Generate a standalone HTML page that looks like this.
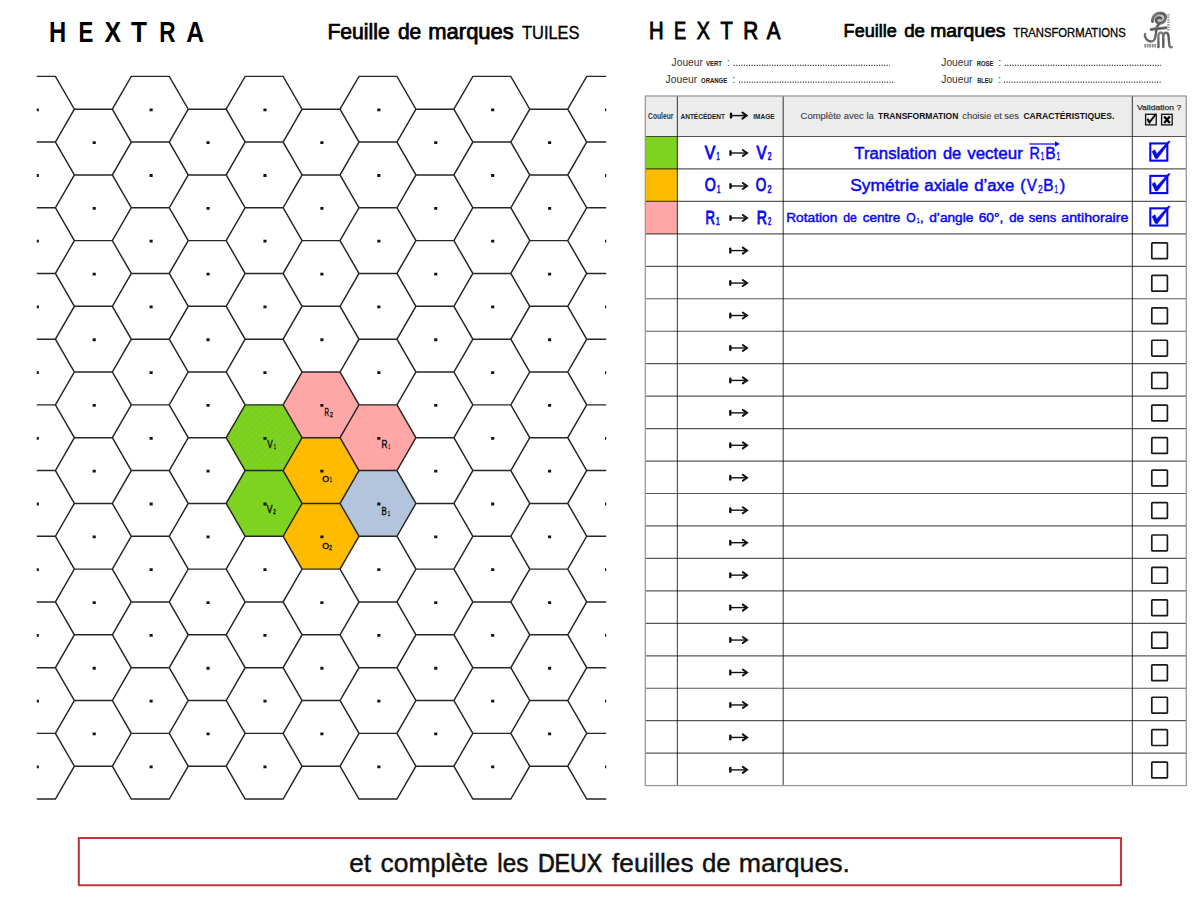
<!DOCTYPE html>
<html><head><meta charset="utf-8"><style>
html,body{margin:0;padding:0;background:#fff;width:1200px;height:900px;overflow:hidden}
svg{display:block;font-family:"Liberation Sans",sans-serif}
</style></head><body>
<svg width="1200" height="900" viewBox="0 0 1200 900">
<defs><clipPath id="gc"><rect x="36.8" y="0" width="569.4" height="900"/></clipPath><pattern id="hatch" patternUnits="userSpaceOnUse" width="4.5" height="4.5" patternTransform="rotate(-42)"><rect width="4.5" height="4.5" fill="#7ed321"/><rect width="4.5" height="0.8" fill="#78c720"/></pattern></defs>
<g clip-path="url(#gc)">
<polygon points="226.18,437.70 245.15,404.85 283.10,404.85 302.07,437.70 283.10,470.55 245.15,470.55" fill="url(#hatch)"/>
<polygon points="226.18,503.40 245.15,470.55 283.10,470.55 302.07,503.40 283.10,536.25 245.15,536.25" fill="#7ed321"/>
<polygon points="283.10,404.85 302.07,372.00 340.03,372.00 359.00,404.85 340.03,437.70 302.07,437.70" fill="#ffa6a6"/>
<polygon points="283.10,470.55 302.07,437.70 340.03,437.70 359.00,470.55 340.03,503.40 302.07,503.40" fill="#ffbb00"/>
<polygon points="283.10,536.25 302.07,503.40 340.03,503.40 359.00,536.25 340.03,569.10 302.07,569.10" fill="#ffbb00"/>
<polygon points="340.03,437.70 359.00,404.85 396.95,404.85 415.93,437.70 396.95,470.55 359.00,470.55" fill="#ffa6a6"/>
<polygon points="340.03,503.40 359.00,470.55 396.95,470.55 415.93,503.40 396.95,536.25 359.00,536.25" fill="#b3c5dc"/>
<path d="M-1.53,109.20 L17.45,76.35 L55.40,76.35 L74.38,109.20 L55.40,142.05 L17.45,142.05Z M-1.53,174.90 L17.45,142.05 L55.40,142.05 L74.38,174.90 L55.40,207.75 L17.45,207.75Z M-1.53,240.60 L17.45,207.75 L55.40,207.75 L74.38,240.60 L55.40,273.45 L17.45,273.45Z M-1.53,306.30 L17.45,273.45 L55.40,273.45 L74.38,306.30 L55.40,339.15 L17.45,339.15Z M-1.53,372.00 L17.45,339.15 L55.40,339.15 L74.38,372.00 L55.40,404.85 L17.45,404.85Z M-1.53,437.70 L17.45,404.85 L55.40,404.85 L74.38,437.70 L55.40,470.55 L17.45,470.55Z M-1.53,503.40 L17.45,470.55 L55.40,470.55 L74.38,503.40 L55.40,536.25 L17.45,536.25Z M-1.53,569.10 L17.45,536.25 L55.40,536.25 L74.38,569.10 L55.40,601.95 L17.45,601.95Z M-1.53,634.80 L17.45,601.95 L55.40,601.95 L74.38,634.80 L55.40,667.65 L17.45,667.65Z M-1.53,700.50 L17.45,667.65 L55.40,667.65 L74.38,700.50 L55.40,733.35 L17.45,733.35Z M-1.53,766.20 L17.45,733.35 L55.40,733.35 L74.38,766.20 L55.40,799.05 L17.45,799.05Z M55.40,142.05 L74.38,109.20 L112.32,109.20 L131.30,142.05 L112.32,174.90 L74.38,174.90Z M55.40,207.75 L74.38,174.90 L112.32,174.90 L131.30,207.75 L112.32,240.60 L74.38,240.60Z M55.40,273.45 L74.38,240.60 L112.32,240.60 L131.30,273.45 L112.32,306.30 L74.38,306.30Z M55.40,339.15 L74.38,306.30 L112.32,306.30 L131.30,339.15 L112.32,372.00 L74.38,372.00Z M55.40,404.85 L74.38,372.00 L112.32,372.00 L131.30,404.85 L112.32,437.70 L74.38,437.70Z M55.40,470.55 L74.38,437.70 L112.32,437.70 L131.30,470.55 L112.32,503.40 L74.38,503.40Z M55.40,536.25 L74.38,503.40 L112.32,503.40 L131.30,536.25 L112.32,569.10 L74.38,569.10Z M55.40,601.95 L74.38,569.10 L112.32,569.10 L131.30,601.95 L112.32,634.80 L74.38,634.80Z M55.40,667.65 L74.38,634.80 L112.32,634.80 L131.30,667.65 L112.32,700.50 L74.38,700.50Z M55.40,733.35 L74.38,700.50 L112.32,700.50 L131.30,733.35 L112.32,766.20 L74.38,766.20Z M112.33,109.20 L131.30,76.35 L169.25,76.35 L188.23,109.20 L169.25,142.05 L131.30,142.05Z M112.33,174.90 L131.30,142.05 L169.25,142.05 L188.23,174.90 L169.25,207.75 L131.30,207.75Z M112.33,240.60 L131.30,207.75 L169.25,207.75 L188.23,240.60 L169.25,273.45 L131.30,273.45Z M112.33,306.30 L131.30,273.45 L169.25,273.45 L188.23,306.30 L169.25,339.15 L131.30,339.15Z M112.33,372.00 L131.30,339.15 L169.25,339.15 L188.23,372.00 L169.25,404.85 L131.30,404.85Z M112.33,437.70 L131.30,404.85 L169.25,404.85 L188.23,437.70 L169.25,470.55 L131.30,470.55Z M112.33,503.40 L131.30,470.55 L169.25,470.55 L188.23,503.40 L169.25,536.25 L131.30,536.25Z M112.33,569.10 L131.30,536.25 L169.25,536.25 L188.23,569.10 L169.25,601.95 L131.30,601.95Z M112.33,634.80 L131.30,601.95 L169.25,601.95 L188.23,634.80 L169.25,667.65 L131.30,667.65Z M112.33,700.50 L131.30,667.65 L169.25,667.65 L188.23,700.50 L169.25,733.35 L131.30,733.35Z M112.33,766.20 L131.30,733.35 L169.25,733.35 L188.23,766.20 L169.25,799.05 L131.30,799.05Z M169.25,142.05 L188.22,109.20 L226.17,109.20 L245.15,142.05 L226.17,174.90 L188.22,174.90Z M169.25,207.75 L188.22,174.90 L226.17,174.90 L245.15,207.75 L226.17,240.60 L188.22,240.60Z M169.25,273.45 L188.22,240.60 L226.17,240.60 L245.15,273.45 L226.17,306.30 L188.22,306.30Z M169.25,339.15 L188.22,306.30 L226.17,306.30 L245.15,339.15 L226.17,372.00 L188.22,372.00Z M169.25,404.85 L188.22,372.00 L226.17,372.00 L245.15,404.85 L226.17,437.70 L188.22,437.70Z M169.25,470.55 L188.22,437.70 L226.17,437.70 L245.15,470.55 L226.17,503.40 L188.22,503.40Z M169.25,536.25 L188.22,503.40 L226.17,503.40 L245.15,536.25 L226.17,569.10 L188.22,569.10Z M169.25,601.95 L188.22,569.10 L226.17,569.10 L245.15,601.95 L226.17,634.80 L188.22,634.80Z M169.25,667.65 L188.22,634.80 L226.17,634.80 L245.15,667.65 L226.17,700.50 L188.22,700.50Z M169.25,733.35 L188.22,700.50 L226.17,700.50 L245.15,733.35 L226.17,766.20 L188.22,766.20Z M226.18,109.20 L245.15,76.35 L283.10,76.35 L302.07,109.20 L283.10,142.05 L245.15,142.05Z M226.18,174.90 L245.15,142.05 L283.10,142.05 L302.07,174.90 L283.10,207.75 L245.15,207.75Z M226.18,240.60 L245.15,207.75 L283.10,207.75 L302.07,240.60 L283.10,273.45 L245.15,273.45Z M226.18,306.30 L245.15,273.45 L283.10,273.45 L302.07,306.30 L283.10,339.15 L245.15,339.15Z M226.18,372.00 L245.15,339.15 L283.10,339.15 L302.07,372.00 L283.10,404.85 L245.15,404.85Z M226.18,437.70 L245.15,404.85 L283.10,404.85 L302.07,437.70 L283.10,470.55 L245.15,470.55Z M226.18,503.40 L245.15,470.55 L283.10,470.55 L302.07,503.40 L283.10,536.25 L245.15,536.25Z M226.18,569.10 L245.15,536.25 L283.10,536.25 L302.07,569.10 L283.10,601.95 L245.15,601.95Z M226.18,634.80 L245.15,601.95 L283.10,601.95 L302.07,634.80 L283.10,667.65 L245.15,667.65Z M226.18,700.50 L245.15,667.65 L283.10,667.65 L302.07,700.50 L283.10,733.35 L245.15,733.35Z M226.18,766.20 L245.15,733.35 L283.10,733.35 L302.07,766.20 L283.10,799.05 L245.15,799.05Z M283.10,142.05 L302.07,109.20 L340.03,109.20 L359.00,142.05 L340.03,174.90 L302.07,174.90Z M283.10,207.75 L302.07,174.90 L340.03,174.90 L359.00,207.75 L340.03,240.60 L302.07,240.60Z M283.10,273.45 L302.07,240.60 L340.03,240.60 L359.00,273.45 L340.03,306.30 L302.07,306.30Z M283.10,339.15 L302.07,306.30 L340.03,306.30 L359.00,339.15 L340.03,372.00 L302.07,372.00Z M283.10,404.85 L302.07,372.00 L340.03,372.00 L359.00,404.85 L340.03,437.70 L302.07,437.70Z M283.10,470.55 L302.07,437.70 L340.03,437.70 L359.00,470.55 L340.03,503.40 L302.07,503.40Z M283.10,536.25 L302.07,503.40 L340.03,503.40 L359.00,536.25 L340.03,569.10 L302.07,569.10Z M283.10,601.95 L302.07,569.10 L340.03,569.10 L359.00,601.95 L340.03,634.80 L302.07,634.80Z M283.10,667.65 L302.07,634.80 L340.03,634.80 L359.00,667.65 L340.03,700.50 L302.07,700.50Z M283.10,733.35 L302.07,700.50 L340.03,700.50 L359.00,733.35 L340.03,766.20 L302.07,766.20Z M340.03,109.20 L359.00,76.35 L396.95,76.35 L415.93,109.20 L396.95,142.05 L359.00,142.05Z M340.03,174.90 L359.00,142.05 L396.95,142.05 L415.93,174.90 L396.95,207.75 L359.00,207.75Z M340.03,240.60 L359.00,207.75 L396.95,207.75 L415.93,240.60 L396.95,273.45 L359.00,273.45Z M340.03,306.30 L359.00,273.45 L396.95,273.45 L415.93,306.30 L396.95,339.15 L359.00,339.15Z M340.03,372.00 L359.00,339.15 L396.95,339.15 L415.93,372.00 L396.95,404.85 L359.00,404.85Z M340.03,437.70 L359.00,404.85 L396.95,404.85 L415.93,437.70 L396.95,470.55 L359.00,470.55Z M340.03,503.40 L359.00,470.55 L396.95,470.55 L415.93,503.40 L396.95,536.25 L359.00,536.25Z M340.03,569.10 L359.00,536.25 L396.95,536.25 L415.93,569.10 L396.95,601.95 L359.00,601.95Z M340.03,634.80 L359.00,601.95 L396.95,601.95 L415.93,634.80 L396.95,667.65 L359.00,667.65Z M340.03,700.50 L359.00,667.65 L396.95,667.65 L415.93,700.50 L396.95,733.35 L359.00,733.35Z M340.03,766.20 L359.00,733.35 L396.95,733.35 L415.93,766.20 L396.95,799.05 L359.00,799.05Z M396.95,142.05 L415.92,109.20 L453.88,109.20 L472.85,142.05 L453.88,174.90 L415.92,174.90Z M396.95,207.75 L415.92,174.90 L453.88,174.90 L472.85,207.75 L453.88,240.60 L415.92,240.60Z M396.95,273.45 L415.92,240.60 L453.88,240.60 L472.85,273.45 L453.88,306.30 L415.92,306.30Z M396.95,339.15 L415.92,306.30 L453.88,306.30 L472.85,339.15 L453.88,372.00 L415.92,372.00Z M396.95,404.85 L415.92,372.00 L453.88,372.00 L472.85,404.85 L453.88,437.70 L415.92,437.70Z M396.95,470.55 L415.92,437.70 L453.88,437.70 L472.85,470.55 L453.88,503.40 L415.92,503.40Z M396.95,536.25 L415.92,503.40 L453.88,503.40 L472.85,536.25 L453.88,569.10 L415.92,569.10Z M396.95,601.95 L415.92,569.10 L453.88,569.10 L472.85,601.95 L453.88,634.80 L415.92,634.80Z M396.95,667.65 L415.92,634.80 L453.88,634.80 L472.85,667.65 L453.88,700.50 L415.92,700.50Z M396.95,733.35 L415.92,700.50 L453.88,700.50 L472.85,733.35 L453.88,766.20 L415.92,766.20Z M453.88,109.20 L472.85,76.35 L510.80,76.35 L529.78,109.20 L510.80,142.05 L472.85,142.05Z M453.88,174.90 L472.85,142.05 L510.80,142.05 L529.78,174.90 L510.80,207.75 L472.85,207.75Z M453.88,240.60 L472.85,207.75 L510.80,207.75 L529.78,240.60 L510.80,273.45 L472.85,273.45Z M453.88,306.30 L472.85,273.45 L510.80,273.45 L529.78,306.30 L510.80,339.15 L472.85,339.15Z M453.88,372.00 L472.85,339.15 L510.80,339.15 L529.78,372.00 L510.80,404.85 L472.85,404.85Z M453.88,437.70 L472.85,404.85 L510.80,404.85 L529.78,437.70 L510.80,470.55 L472.85,470.55Z M453.88,503.40 L472.85,470.55 L510.80,470.55 L529.78,503.40 L510.80,536.25 L472.85,536.25Z M453.88,569.10 L472.85,536.25 L510.80,536.25 L529.78,569.10 L510.80,601.95 L472.85,601.95Z M453.88,634.80 L472.85,601.95 L510.80,601.95 L529.78,634.80 L510.80,667.65 L472.85,667.65Z M453.88,700.50 L472.85,667.65 L510.80,667.65 L529.78,700.50 L510.80,733.35 L472.85,733.35Z M453.88,766.20 L472.85,733.35 L510.80,733.35 L529.78,766.20 L510.80,799.05 L472.85,799.05Z M510.80,142.05 L529.77,109.20 L567.73,109.20 L586.70,142.05 L567.73,174.90 L529.77,174.90Z M510.80,207.75 L529.77,174.90 L567.73,174.90 L586.70,207.75 L567.73,240.60 L529.77,240.60Z M510.80,273.45 L529.77,240.60 L567.73,240.60 L586.70,273.45 L567.73,306.30 L529.77,306.30Z M510.80,339.15 L529.77,306.30 L567.73,306.30 L586.70,339.15 L567.73,372.00 L529.77,372.00Z M510.80,404.85 L529.77,372.00 L567.73,372.00 L586.70,404.85 L567.73,437.70 L529.77,437.70Z M510.80,470.55 L529.77,437.70 L567.73,437.70 L586.70,470.55 L567.73,503.40 L529.77,503.40Z M510.80,536.25 L529.77,503.40 L567.73,503.40 L586.70,536.25 L567.73,569.10 L529.77,569.10Z M510.80,601.95 L529.77,569.10 L567.73,569.10 L586.70,601.95 L567.73,634.80 L529.77,634.80Z M510.80,667.65 L529.77,634.80 L567.73,634.80 L586.70,667.65 L567.73,700.50 L529.77,700.50Z M510.80,733.35 L529.77,700.50 L567.73,700.50 L586.70,733.35 L567.73,766.20 L529.77,766.20Z M567.73,109.20 L586.70,76.35 L624.65,76.35 L643.63,109.20 L624.65,142.05 L586.70,142.05Z M567.73,174.90 L586.70,142.05 L624.65,142.05 L643.63,174.90 L624.65,207.75 L586.70,207.75Z M567.73,240.60 L586.70,207.75 L624.65,207.75 L643.63,240.60 L624.65,273.45 L586.70,273.45Z M567.73,306.30 L586.70,273.45 L624.65,273.45 L643.63,306.30 L624.65,339.15 L586.70,339.15Z M567.73,372.00 L586.70,339.15 L624.65,339.15 L643.63,372.00 L624.65,404.85 L586.70,404.85Z M567.73,437.70 L586.70,404.85 L624.65,404.85 L643.63,437.70 L624.65,470.55 L586.70,470.55Z M567.73,503.40 L586.70,470.55 L624.65,470.55 L643.63,503.40 L624.65,536.25 L586.70,536.25Z M567.73,569.10 L586.70,536.25 L624.65,536.25 L643.63,569.10 L624.65,601.95 L586.70,601.95Z M567.73,634.80 L586.70,601.95 L624.65,601.95 L643.63,634.80 L624.65,667.65 L586.70,667.65Z M567.73,700.50 L586.70,667.65 L624.65,667.65 L643.63,700.50 L624.65,733.35 L586.70,733.35Z M567.73,766.20 L586.70,733.35 L624.65,733.35 L643.63,766.20 L624.65,799.05 L586.70,799.05Z" fill="none" stroke="#262626" stroke-width="1.45"/>
<path d="M35.72,108.40h3.1v2.8h-3.1zM35.72,174.10h3.1v2.8h-3.1zM35.72,239.80h3.1v2.8h-3.1zM35.72,305.50h3.1v2.8h-3.1zM35.72,371.20h3.1v2.8h-3.1zM35.72,436.90h3.1v2.8h-3.1zM35.72,502.60h3.1v2.8h-3.1zM35.72,568.30h3.1v2.8h-3.1zM35.72,634.00h3.1v2.8h-3.1zM35.72,699.70h3.1v2.8h-3.1zM35.72,765.40h3.1v2.8h-3.1zM92.65,141.25h3.1v2.8h-3.1zM92.65,206.95h3.1v2.8h-3.1zM92.65,272.65h3.1v2.8h-3.1zM92.65,338.35h3.1v2.8h-3.1zM92.65,404.05h3.1v2.8h-3.1zM92.65,469.75h3.1v2.8h-3.1zM92.65,535.45h3.1v2.8h-3.1zM92.65,601.15h3.1v2.8h-3.1zM92.65,666.85h3.1v2.8h-3.1zM92.65,732.55h3.1v2.8h-3.1zM149.58,108.40h3.1v2.8h-3.1zM149.58,174.10h3.1v2.8h-3.1zM149.58,239.80h3.1v2.8h-3.1zM149.58,305.50h3.1v2.8h-3.1zM149.58,371.20h3.1v2.8h-3.1zM149.58,436.90h3.1v2.8h-3.1zM149.58,502.60h3.1v2.8h-3.1zM149.58,568.30h3.1v2.8h-3.1zM149.58,634.00h3.1v2.8h-3.1zM149.58,699.70h3.1v2.8h-3.1zM149.58,765.40h3.1v2.8h-3.1zM206.50,141.25h3.1v2.8h-3.1zM206.50,206.95h3.1v2.8h-3.1zM206.50,272.65h3.1v2.8h-3.1zM206.50,338.35h3.1v2.8h-3.1zM206.50,404.05h3.1v2.8h-3.1zM206.50,469.75h3.1v2.8h-3.1zM206.50,535.45h3.1v2.8h-3.1zM206.50,601.15h3.1v2.8h-3.1zM206.50,666.85h3.1v2.8h-3.1zM206.50,732.55h3.1v2.8h-3.1zM263.43,108.40h3.1v2.8h-3.1zM263.43,174.10h3.1v2.8h-3.1zM263.43,239.80h3.1v2.8h-3.1zM263.43,305.50h3.1v2.8h-3.1zM263.43,371.20h3.1v2.8h-3.1zM263.43,436.90h3.1v2.8h-3.1zM263.43,502.60h3.1v2.8h-3.1zM263.43,568.30h3.1v2.8h-3.1zM263.43,634.00h3.1v2.8h-3.1zM263.43,699.70h3.1v2.8h-3.1zM263.43,765.40h3.1v2.8h-3.1zM320.35,141.25h3.1v2.8h-3.1zM320.35,206.95h3.1v2.8h-3.1zM320.35,272.65h3.1v2.8h-3.1zM320.35,338.35h3.1v2.8h-3.1zM320.35,404.05h3.1v2.8h-3.1zM320.35,469.75h3.1v2.8h-3.1zM320.35,535.45h3.1v2.8h-3.1zM320.35,601.15h3.1v2.8h-3.1zM320.35,666.85h3.1v2.8h-3.1zM320.35,732.55h3.1v2.8h-3.1zM377.28,108.40h3.1v2.8h-3.1zM377.28,174.10h3.1v2.8h-3.1zM377.28,239.80h3.1v2.8h-3.1zM377.28,305.50h3.1v2.8h-3.1zM377.28,371.20h3.1v2.8h-3.1zM377.28,436.90h3.1v2.8h-3.1zM377.28,502.60h3.1v2.8h-3.1zM377.28,568.30h3.1v2.8h-3.1zM377.28,634.00h3.1v2.8h-3.1zM377.28,699.70h3.1v2.8h-3.1zM377.28,765.40h3.1v2.8h-3.1zM434.20,141.25h3.1v2.8h-3.1zM434.20,206.95h3.1v2.8h-3.1zM434.20,272.65h3.1v2.8h-3.1zM434.20,338.35h3.1v2.8h-3.1zM434.20,404.05h3.1v2.8h-3.1zM434.20,469.75h3.1v2.8h-3.1zM434.20,535.45h3.1v2.8h-3.1zM434.20,601.15h3.1v2.8h-3.1zM434.20,666.85h3.1v2.8h-3.1zM434.20,732.55h3.1v2.8h-3.1zM491.13,108.40h3.1v2.8h-3.1zM491.13,174.10h3.1v2.8h-3.1zM491.13,239.80h3.1v2.8h-3.1zM491.13,305.50h3.1v2.8h-3.1zM491.13,371.20h3.1v2.8h-3.1zM491.13,436.90h3.1v2.8h-3.1zM491.13,502.60h3.1v2.8h-3.1zM491.13,568.30h3.1v2.8h-3.1zM491.13,634.00h3.1v2.8h-3.1zM491.13,699.70h3.1v2.8h-3.1zM491.13,765.40h3.1v2.8h-3.1zM548.05,141.25h3.1v2.8h-3.1zM548.05,206.95h3.1v2.8h-3.1zM548.05,272.65h3.1v2.8h-3.1zM548.05,338.35h3.1v2.8h-3.1zM548.05,404.05h3.1v2.8h-3.1zM548.05,469.75h3.1v2.8h-3.1zM548.05,535.45h3.1v2.8h-3.1zM548.05,601.15h3.1v2.8h-3.1zM548.05,666.85h3.1v2.8h-3.1zM548.05,732.55h3.1v2.8h-3.1zM604.98,108.40h3.1v2.8h-3.1zM604.98,174.10h3.1v2.8h-3.1zM604.98,239.80h3.1v2.8h-3.1zM604.98,305.50h3.1v2.8h-3.1zM604.98,371.20h3.1v2.8h-3.1zM604.98,436.90h3.1v2.8h-3.1zM604.98,502.60h3.1v2.8h-3.1zM604.98,568.30h3.1v2.8h-3.1zM604.98,634.00h3.1v2.8h-3.1zM604.98,699.70h3.1v2.8h-3.1zM604.98,765.40h3.1v2.8h-3.1z" fill="#111"/>
</g>
<line x1="733.7" y1="65.4" x2="890" y2="65.4" stroke="#3a3a3a" stroke-width="1.2" stroke-dasharray="1.15 1.4"/>
<line x1="739" y1="82.1" x2="895" y2="82.1" stroke="#3a3a3a" stroke-width="1.2" stroke-dasharray="1.15 1.4"/>
<line x1="1004.7" y1="65.4" x2="1161" y2="65.4" stroke="#3a3a3a" stroke-width="1.2" stroke-dasharray="1.15 1.4"/>
<line x1="1004" y1="82.1" x2="1161" y2="82.1" stroke="#3a3a3a" stroke-width="1.2" stroke-dasharray="1.15 1.4"/>
<rect x="645.3" y="96.0" width="541.0" height="40.5" fill="#ececec"/>
<rect x="645.3" y="136.50" width="32.10000000000002" height="32.45" fill="#7ed321"/>
<rect x="645.3" y="168.95" width="32.10000000000002" height="32.45" fill="#ffbb00"/>
<rect x="645.3" y="201.41" width="32.10000000000002" height="32.45" fill="#ffa6a6"/>
<path d="M645.3,136.50H1186.3M645.3,168.95H1186.3M645.3,201.41H1186.3M645.3,233.87H1186.3M645.3,266.32H1186.3M645.3,298.77H1186.3M645.3,331.23H1186.3M645.3,363.69H1186.3M645.3,396.14H1186.3M645.3,428.59H1186.3M645.3,461.05H1186.3M645.3,493.50H1186.3M645.3,525.96H1186.3M645.3,558.41H1186.3M645.3,590.87H1186.3M645.3,623.33H1186.3M645.3,655.78H1186.3M645.3,688.24H1186.3M645.3,720.69H1186.3M645.3,753.14H1186.3" stroke="#000" stroke-opacity="0.66" stroke-width="1.2" fill="none"/>
<path d="M677.4,96.0V785.6M783.2,96.0V785.6M1132.4,96.0V785.6" stroke="#000" stroke-opacity="0.66" stroke-width="1.2" fill="none"/>
<rect x="645.3" y="96.0" width="541.0" height="689.6" stroke="#9a9a9a" stroke-width="1.3" fill="none"/>
<path d="M730.8,115.60H746.1" stroke="#111" stroke-width="1.4" fill="none"/><path d="M731.0,113.80V117.40" stroke="#111" stroke-width="2.4" stroke-linecap="round" fill="none"/><path d="M742.4,112.60 L746.6,115.60 L742.4,118.60" stroke="#111" stroke-width="2.0" stroke-linecap="round" stroke-linejoin="miter" fill="none"/>
<rect x="1145.6" y="114.3" width="10.6" height="10.6" fill="none" stroke="#111" stroke-width="1.3"/>
<polygon points="1146.9,119.6 1148.3,118.6 1149.7,121.0 1155.3,113.7 1156.5,114.2 1149.6,123.6 1149.0,123.6" fill="#000" stroke="#000" stroke-width="0.5" stroke-linejoin="round"/>
<rect x="1161.6" y="114.3" width="10.6" height="10.6" fill="none" stroke="#111" stroke-width="1.3"/>
<path d="M1164.2,116.4 L1169.8,123.0 M1169.8,116.4 L1164.2,123.0" fill="none" stroke="#000" stroke-width="2.3"/>
<path d="M730.3,153.00H746.5" stroke="#111" stroke-width="1.4" fill="none"/><path d="M730.5,151.20V154.80" stroke="#111" stroke-width="2.4" stroke-linecap="round" fill="none"/><path d="M742.8,150.00 L747.0,153.00 L742.8,156.00" stroke="#111" stroke-width="2.0" stroke-linecap="round" stroke-linejoin="miter" fill="none"/>
<path d="M730.3,186.00H746.5" stroke="#111" stroke-width="1.4" fill="none"/><path d="M730.5,184.20V187.80" stroke="#111" stroke-width="2.4" stroke-linecap="round" fill="none"/><path d="M742.8,183.00 L747.0,186.00 L742.8,189.00" stroke="#111" stroke-width="2.0" stroke-linecap="round" stroke-linejoin="miter" fill="none"/>
<path d="M730.3,218.00H746.5" stroke="#111" stroke-width="1.4" fill="none"/><path d="M730.5,216.20V219.80" stroke="#111" stroke-width="2.4" stroke-linecap="round" fill="none"/><path d="M742.8,215.00 L747.0,218.00 L742.8,221.00" stroke="#111" stroke-width="2.0" stroke-linecap="round" stroke-linejoin="miter" fill="none"/>
<path d="M1029.3,144H1056" stroke="#0808f0" stroke-width="1.2"/><path d="M1055,141.2L1059.8,144L1055,146.8Z" fill="#0808f0"/>
<rect x="1150.3" y="143.43" width="17.0" height="17.2" fill="none" stroke="#0808f0" stroke-width="2.1"/>
<polygon points="1152.10,151.53 1154.90,149.83 1156.70,154.03 1168.30,141.33 1170.20,141.23 1157.40,158.53 1155.40,158.53" fill="#0808f0" stroke="#0808f0" stroke-width="0.6" stroke-linejoin="round"/>
<rect x="1150.3" y="175.88" width="17.0" height="17.2" fill="none" stroke="#0808f0" stroke-width="2.1"/>
<polygon points="1152.10,183.98 1154.90,182.28 1156.70,186.48 1168.30,173.78 1170.20,173.68 1157.40,190.98 1155.40,190.98" fill="#0808f0" stroke="#0808f0" stroke-width="0.6" stroke-linejoin="round"/>
<rect x="1150.3" y="208.34" width="17.0" height="17.2" fill="none" stroke="#0808f0" stroke-width="2.1"/>
<polygon points="1152.10,216.44 1154.90,214.74 1156.70,218.94 1168.30,206.24 1170.20,206.14 1157.40,223.44 1155.40,223.44" fill="#0808f0" stroke="#0808f0" stroke-width="0.6" stroke-linejoin="round"/>
<path d="M730.1,250.59H746.5" stroke="#111" stroke-width="1.4" fill="none"/><path d="M730.3000000000001,248.79V252.39" stroke="#111" stroke-width="2.4" stroke-linecap="round" fill="none"/><path d="M742.8,247.59 L747.0,250.59 L742.8,253.59" stroke="#111" stroke-width="2.0" stroke-linecap="round" stroke-linejoin="miter" fill="none"/>
<rect x="1151.8" y="242.89" width="15.6" height="15.8" rx="0.7" fill="none" stroke="#1a1a1a" stroke-width="1.7"/>
<path d="M730.1,283.05H746.5" stroke="#111" stroke-width="1.4" fill="none"/><path d="M730.3000000000001,281.25V284.85" stroke="#111" stroke-width="2.4" stroke-linecap="round" fill="none"/><path d="M742.8,280.05 L747.0,283.05 L742.8,286.05" stroke="#111" stroke-width="2.0" stroke-linecap="round" stroke-linejoin="miter" fill="none"/>
<rect x="1151.8" y="275.35" width="15.6" height="15.8" rx="0.7" fill="none" stroke="#1a1a1a" stroke-width="1.7"/>
<path d="M730.1,315.50H746.5" stroke="#111" stroke-width="1.4" fill="none"/><path d="M730.3000000000001,313.70V317.30" stroke="#111" stroke-width="2.4" stroke-linecap="round" fill="none"/><path d="M742.8,312.50 L747.0,315.50 L742.8,318.50" stroke="#111" stroke-width="2.0" stroke-linecap="round" stroke-linejoin="miter" fill="none"/>
<rect x="1151.8" y="307.80" width="15.6" height="15.8" rx="0.7" fill="none" stroke="#1a1a1a" stroke-width="1.7"/>
<path d="M730.1,347.96H746.5" stroke="#111" stroke-width="1.4" fill="none"/><path d="M730.3000000000001,346.16V349.76" stroke="#111" stroke-width="2.4" stroke-linecap="round" fill="none"/><path d="M742.8,344.96 L747.0,347.96 L742.8,350.96" stroke="#111" stroke-width="2.0" stroke-linecap="round" stroke-linejoin="miter" fill="none"/>
<rect x="1151.8" y="340.26" width="15.6" height="15.8" rx="0.7" fill="none" stroke="#1a1a1a" stroke-width="1.7"/>
<path d="M730.1,380.41H746.5" stroke="#111" stroke-width="1.4" fill="none"/><path d="M730.3000000000001,378.61V382.21" stroke="#111" stroke-width="2.4" stroke-linecap="round" fill="none"/><path d="M742.8,377.41 L747.0,380.41 L742.8,383.41" stroke="#111" stroke-width="2.0" stroke-linecap="round" stroke-linejoin="miter" fill="none"/>
<rect x="1151.8" y="372.71" width="15.6" height="15.8" rx="0.7" fill="none" stroke="#1a1a1a" stroke-width="1.7"/>
<path d="M730.1,412.87H746.5" stroke="#111" stroke-width="1.4" fill="none"/><path d="M730.3000000000001,411.07V414.67" stroke="#111" stroke-width="2.4" stroke-linecap="round" fill="none"/><path d="M742.8,409.87 L747.0,412.87 L742.8,415.87" stroke="#111" stroke-width="2.0" stroke-linecap="round" stroke-linejoin="miter" fill="none"/>
<rect x="1151.8" y="405.17" width="15.6" height="15.8" rx="0.7" fill="none" stroke="#1a1a1a" stroke-width="1.7"/>
<path d="M730.1,445.32H746.5" stroke="#111" stroke-width="1.4" fill="none"/><path d="M730.3000000000001,443.52V447.12" stroke="#111" stroke-width="2.4" stroke-linecap="round" fill="none"/><path d="M742.8,442.32 L747.0,445.32 L742.8,448.32" stroke="#111" stroke-width="2.0" stroke-linecap="round" stroke-linejoin="miter" fill="none"/>
<rect x="1151.8" y="437.62" width="15.6" height="15.8" rx="0.7" fill="none" stroke="#1a1a1a" stroke-width="1.7"/>
<path d="M730.1,477.78H746.5" stroke="#111" stroke-width="1.4" fill="none"/><path d="M730.3000000000001,475.98V479.58" stroke="#111" stroke-width="2.4" stroke-linecap="round" fill="none"/><path d="M742.8,474.78 L747.0,477.78 L742.8,480.78" stroke="#111" stroke-width="2.0" stroke-linecap="round" stroke-linejoin="miter" fill="none"/>
<rect x="1151.8" y="470.08" width="15.6" height="15.8" rx="0.7" fill="none" stroke="#1a1a1a" stroke-width="1.7"/>
<path d="M730.1,510.23H746.5" stroke="#111" stroke-width="1.4" fill="none"/><path d="M730.3000000000001,508.43V512.03" stroke="#111" stroke-width="2.4" stroke-linecap="round" fill="none"/><path d="M742.8,507.23 L747.0,510.23 L742.8,513.23" stroke="#111" stroke-width="2.0" stroke-linecap="round" stroke-linejoin="miter" fill="none"/>
<rect x="1151.8" y="502.53" width="15.6" height="15.8" rx="0.7" fill="none" stroke="#1a1a1a" stroke-width="1.7"/>
<path d="M730.1,542.69H746.5" stroke="#111" stroke-width="1.4" fill="none"/><path d="M730.3000000000001,540.89V544.49" stroke="#111" stroke-width="2.4" stroke-linecap="round" fill="none"/><path d="M742.8,539.69 L747.0,542.69 L742.8,545.69" stroke="#111" stroke-width="2.0" stroke-linecap="round" stroke-linejoin="miter" fill="none"/>
<rect x="1151.8" y="534.99" width="15.6" height="15.8" rx="0.7" fill="none" stroke="#1a1a1a" stroke-width="1.7"/>
<path d="M730.1,575.14H746.5" stroke="#111" stroke-width="1.4" fill="none"/><path d="M730.3000000000001,573.34V576.94" stroke="#111" stroke-width="2.4" stroke-linecap="round" fill="none"/><path d="M742.8,572.14 L747.0,575.14 L742.8,578.14" stroke="#111" stroke-width="2.0" stroke-linecap="round" stroke-linejoin="miter" fill="none"/>
<rect x="1151.8" y="567.44" width="15.6" height="15.8" rx="0.7" fill="none" stroke="#1a1a1a" stroke-width="1.7"/>
<path d="M730.1,607.60H746.5" stroke="#111" stroke-width="1.4" fill="none"/><path d="M730.3000000000001,605.80V609.40" stroke="#111" stroke-width="2.4" stroke-linecap="round" fill="none"/><path d="M742.8,604.60 L747.0,607.60 L742.8,610.60" stroke="#111" stroke-width="2.0" stroke-linecap="round" stroke-linejoin="miter" fill="none"/>
<rect x="1151.8" y="599.90" width="15.6" height="15.8" rx="0.7" fill="none" stroke="#1a1a1a" stroke-width="1.7"/>
<path d="M730.1,640.05H746.5" stroke="#111" stroke-width="1.4" fill="none"/><path d="M730.3000000000001,638.25V641.85" stroke="#111" stroke-width="2.4" stroke-linecap="round" fill="none"/><path d="M742.8,637.05 L747.0,640.05 L742.8,643.05" stroke="#111" stroke-width="2.0" stroke-linecap="round" stroke-linejoin="miter" fill="none"/>
<rect x="1151.8" y="632.35" width="15.6" height="15.8" rx="0.7" fill="none" stroke="#1a1a1a" stroke-width="1.7"/>
<path d="M730.1,672.51H746.5" stroke="#111" stroke-width="1.4" fill="none"/><path d="M730.3000000000001,670.71V674.31" stroke="#111" stroke-width="2.4" stroke-linecap="round" fill="none"/><path d="M742.8,669.51 L747.0,672.51 L742.8,675.51" stroke="#111" stroke-width="2.0" stroke-linecap="round" stroke-linejoin="miter" fill="none"/>
<rect x="1151.8" y="664.81" width="15.6" height="15.8" rx="0.7" fill="none" stroke="#1a1a1a" stroke-width="1.7"/>
<path d="M730.1,704.96H746.5" stroke="#111" stroke-width="1.4" fill="none"/><path d="M730.3000000000001,703.16V706.76" stroke="#111" stroke-width="2.4" stroke-linecap="round" fill="none"/><path d="M742.8,701.96 L747.0,704.96 L742.8,707.96" stroke="#111" stroke-width="2.0" stroke-linecap="round" stroke-linejoin="miter" fill="none"/>
<rect x="1151.8" y="697.26" width="15.6" height="15.8" rx="0.7" fill="none" stroke="#1a1a1a" stroke-width="1.7"/>
<path d="M730.1,737.42H746.5" stroke="#111" stroke-width="1.4" fill="none"/><path d="M730.3000000000001,735.62V739.22" stroke="#111" stroke-width="2.4" stroke-linecap="round" fill="none"/><path d="M742.8,734.42 L747.0,737.42 L742.8,740.42" stroke="#111" stroke-width="2.0" stroke-linecap="round" stroke-linejoin="miter" fill="none"/>
<rect x="1151.8" y="729.72" width="15.6" height="15.8" rx="0.7" fill="none" stroke="#1a1a1a" stroke-width="1.7"/>
<path d="M730.1,769.87H746.5" stroke="#111" stroke-width="1.4" fill="none"/><path d="M730.3000000000001,768.07V771.67" stroke="#111" stroke-width="2.4" stroke-linecap="round" fill="none"/><path d="M742.8,766.87 L747.0,769.87 L742.8,772.87" stroke="#111" stroke-width="2.0" stroke-linecap="round" stroke-linejoin="miter" fill="none"/>
<rect x="1151.8" y="762.17" width="15.6" height="15.8" rx="0.7" fill="none" stroke="#1a1a1a" stroke-width="1.7"/>
<rect x="78.8" y="838.0" width="1042.2" height="47.3" fill="none" stroke="#be373c" stroke-width="2.1" stroke-linejoin="round"/>
<defs><linearGradient id="lg" x1="0" y1="0" x2="1" y2="1"><stop offset="0" stop-color="#8a8a8a"/><stop offset="0.5" stop-color="#555"/><stop offset="1" stop-color="#7a7a7a"/></linearGradient></defs>
<ellipse cx="1159.2" cy="18.6" rx="5.6" ry="4.6" fill="#c4c4c4"/>
<g fill="none" stroke="url(#lg)" stroke-linecap="round" stroke-linejoin="round"><path d="M1152.4,21.5 C1152.2,16 1156,13 1160,13 C1164,13 1166,15.5 1165.6,18 C1165,21.5 1162.5,23.3 1159.5,23.3 C1157,23.3 1155.6,21.5 1156.2,19.6 C1156.8,17.6 1159.5,17 1161,18.3" stroke-width="2.8"/><path d="M1159.5,23.5 L1156.3,27.5" stroke-width="2.6"/><path d="M1151.3,29.4 C1155,28.8 1161,28.2 1166,27.8" stroke-width="3"/><path d="M1156.4,29.6 C1156,34 1155.5,39 1153.6,40.6 C1151,42.5 1146.3,41 1145,36.5 L1145,34" stroke-width="2.4"/><path d="M1158.4,47 L1158.4,35.5 C1158.6,33 1160.2,32.4 1161.2,32.6 C1162.8,33 1163.3,34.5 1163.3,36 L1163.3,47 M1163.3,36 C1163.5,33.5 1165,32.6 1166.4,32.8 C1168,33.1 1168.5,35 1168.6,37 L1169.3,45 C1169.5,46.5 1170.5,47.3 1171.7,47.2" stroke-width="2.4"/></g>
<path d="M1168.4,14 V30.5" stroke="#9a9a9a" stroke-width="2.4" stroke-dasharray="1.6 0.9" fill="none"/>
<path d="M1144.3,45.8 H1156" stroke="#8f8f8f" stroke-width="3.6" stroke-dasharray="1.8 0.7" fill="none"/>
<text x="48.92" y="42.3" font-size="28.6" font-weight="bold" fill="#000" textLength="17.21" lengthAdjust="spacingAndGlyphs">H</text>
<text x="78.52" y="42.3" font-size="28.6" font-weight="bold" fill="#000" textLength="14.81" lengthAdjust="spacingAndGlyphs">E</text>
<text x="104.50" y="42.3" font-size="28.6" font-weight="bold" fill="#000" textLength="16.56" lengthAdjust="spacingAndGlyphs">X</text>
<text x="131.00" y="42.3" font-size="28.6" font-weight="bold" fill="#000" textLength="16.01" lengthAdjust="spacingAndGlyphs">T</text>
<text x="159.21" y="42.3" font-size="28.6" font-weight="bold" fill="#000" textLength="16.26" lengthAdjust="spacingAndGlyphs">R</text>
<text x="186.25" y="42.3" font-size="28.6" font-weight="bold" fill="#000" textLength="17.81" lengthAdjust="spacingAndGlyphs">A</text>
<text x="648.98" y="38.75" font-size="23.3" font-weight="normal" fill="#000" stroke="#000" stroke-width="0.9" textLength="14.66" lengthAdjust="spacingAndGlyphs">H</text>
<text x="674.07" y="38.75" font-size="23.3" font-weight="normal" fill="#000" stroke="#000" stroke-width="0.9" textLength="12.15" lengthAdjust="spacingAndGlyphs">E</text>
<text x="696.70" y="38.75" font-size="23.3" font-weight="normal" fill="#000" stroke="#000" stroke-width="0.9" textLength="13.06" lengthAdjust="spacingAndGlyphs">X</text>
<text x="720.45" y="38.75" font-size="23.3" font-weight="normal" fill="#000" stroke="#000" stroke-width="0.9" textLength="12.30" lengthAdjust="spacingAndGlyphs">T</text>
<text x="743.31" y="38.75" font-size="23.3" font-weight="normal" fill="#000" stroke="#000" stroke-width="0.9" textLength="14.97" lengthAdjust="spacingAndGlyphs">R</text>
<text x="766.70" y="38.75" font-size="23.3" font-weight="normal" fill="#000" stroke="#000" stroke-width="0.9" textLength="13.69" lengthAdjust="spacingAndGlyphs">A</text>
<text x="327.48" y="38.8" font-size="21.2" font-weight="normal" fill="#000" stroke="#000" stroke-width="0.75" textLength="62.23" lengthAdjust="spacingAndGlyphs">Feuille</text>
<text x="397.88" y="38.8" font-size="21.2" font-weight="normal" fill="#000" stroke="#000" stroke-width="0.75" textLength="23.33" lengthAdjust="spacingAndGlyphs">de</text>
<text x="428.24" y="38.8" font-size="21.2" font-weight="normal" fill="#000" stroke="#000" stroke-width="0.75" textLength="85.61" lengthAdjust="spacingAndGlyphs">marques</text>
<text x="521.97" y="38.9" font-size="17.7" font-weight="normal" fill="#000" stroke="#000" stroke-width="0.35" textLength="57.59" lengthAdjust="spacingAndGlyphs">TUILES</text>
<text x="843.59" y="37.2" font-size="18.9" font-weight="normal" fill="#000" stroke="#000" stroke-width="0.7" textLength="53.34" lengthAdjust="spacingAndGlyphs">Feuille</text>
<text x="904.15" y="37.2" font-size="18.9" font-weight="normal" fill="#000" stroke="#000" stroke-width="0.7" textLength="20.90" lengthAdjust="spacingAndGlyphs">de</text>
<text x="930.23" y="37.2" font-size="18.9" font-weight="normal" fill="#000" stroke="#000" stroke-width="0.7" textLength="75.18" lengthAdjust="spacingAndGlyphs">marques</text>
<text x="1013.25" y="37.0" font-size="12.4" font-weight="normal" fill="#000" stroke="#000" stroke-width="0.3" textLength="112.54" lengthAdjust="spacingAndGlyphs">TRANSFORMATIONS</text>
<text x="671.60" y="66.0" font-size="10.6" font-weight="normal" fill="#333" textLength="31.24" lengthAdjust="spacingAndGlyphs">Joueur</text>
<text x="706.05" y="66.0" font-size="6.6" font-weight="bold" fill="#2a2a2a" stroke="#2a2a2a" stroke-width="0.1" textLength="15.93" lengthAdjust="spacingAndGlyphs">VERT</text>
<text x="726.70" y="66.0" font-size="10.0" font-weight="normal" fill="#444" textLength="3.06" lengthAdjust="spacingAndGlyphs">:</text>
<text x="665.60" y="82.75" font-size="10.6" font-weight="normal" fill="#333" textLength="31.64" lengthAdjust="spacingAndGlyphs">Joueur</text>
<text x="701.05" y="82.75" font-size="6.6" font-weight="bold" fill="#2a2a2a" stroke="#2a2a2a" stroke-width="0.1" textLength="26.06" lengthAdjust="spacingAndGlyphs">ORANGE</text>
<text x="732.30" y="82.75" font-size="10.0" font-weight="normal" fill="#444" textLength="3.06" lengthAdjust="spacingAndGlyphs">:</text>
<text x="941.30" y="66.0" font-size="10.6" font-weight="normal" fill="#333" textLength="31.24" lengthAdjust="spacingAndGlyphs">Joueur</text>
<text x="976.75" y="66.0" font-size="6.6" font-weight="bold" fill="#2a2a2a" stroke="#2a2a2a" stroke-width="0.1" textLength="16.66" lengthAdjust="spacingAndGlyphs">ROSE</text>
<text x="998.30" y="66.0" font-size="10.0" font-weight="normal" fill="#444" textLength="3.06" lengthAdjust="spacingAndGlyphs">:</text>
<text x="941.30" y="82.75" font-size="10.6" font-weight="normal" fill="#333" textLength="31.24" lengthAdjust="spacingAndGlyphs">Joueur</text>
<text x="977.35" y="82.75" font-size="6.6" font-weight="bold" fill="#2a2a2a" stroke="#2a2a2a" stroke-width="0.1" textLength="15.10" lengthAdjust="spacingAndGlyphs">BLEU</text>
<text x="998.00" y="82.75" font-size="10.0" font-weight="normal" fill="#444" textLength="3.06" lengthAdjust="spacingAndGlyphs">:</text>
<text x="648.10" y="118.6" font-size="8.4" font-weight="bold" fill="#333" textLength="25.21" lengthAdjust="spacingAndGlyphs">Couleur</text>
<text x="680.50" y="118.6" font-size="8.0" font-weight="bold" fill="#222" textLength="44.41" lengthAdjust="spacingAndGlyphs">ANTÉCÉDENT</text>
<text x="753.20" y="118.6" font-size="8.0" font-weight="bold" fill="#222" textLength="21.36" lengthAdjust="spacingAndGlyphs">IMAGE</text>
<text x="800.55" y="118.5" font-size="8.7" font-weight="normal" fill="#3c3c3c" stroke="#3c3c3c" stroke-width="0.1" textLength="73.22" lengthAdjust="spacingAndGlyphs">Complète avec la</text>
<text x="878.00" y="118.5" font-size="8.7" font-weight="bold" fill="#111" textLength="80.37" lengthAdjust="spacingAndGlyphs">TRANSFORMATION</text>
<text x="962.25" y="118.5" font-size="8.7" font-weight="normal" fill="#3c3c3c" stroke="#3c3c3c" stroke-width="0.1" textLength="56.69" lengthAdjust="spacingAndGlyphs">choisie et ses</text>
<text x="1023.40" y="118.5" font-size="8.7" font-weight="bold" fill="#111" textLength="90.91" lengthAdjust="spacingAndGlyphs">CARACTÉRISTIQUES.</text>
<text x="1137.03" y="109.7" font-size="7.3" font-weight="normal" fill="#333" stroke="#333" stroke-width="0.25" textLength="44.22" lengthAdjust="spacingAndGlyphs">Validation ?</text>
<text x="704.75" y="158.7" font-size="18" font-weight="normal" fill="#0808f0" stroke="#0808f0" stroke-width="0.9" textLength="10.51" lengthAdjust="spacingAndGlyphs">V</text>
<text x="716.40" y="159.8" font-size="10" font-weight="normal" fill="#0808f0" stroke="#0808f0" stroke-width="0.6" textLength="3.06" lengthAdjust="spacingAndGlyphs">1</text>
<text x="756.45" y="158.7" font-size="18" font-weight="normal" fill="#0808f0" stroke="#0808f0" stroke-width="0.9" textLength="10.10" lengthAdjust="spacingAndGlyphs">V</text>
<text x="767.70" y="159.8" font-size="10" font-weight="normal" fill="#0808f0" stroke="#0808f0" stroke-width="0.6" textLength="3.71" lengthAdjust="spacingAndGlyphs">2</text>
<text x="704.75" y="190.7" font-size="18" font-weight="normal" fill="#0808f0" stroke="#0808f0" stroke-width="0.9" textLength="11.10" lengthAdjust="spacingAndGlyphs">O</text>
<text x="717.00" y="192.5" font-size="10" font-weight="normal" fill="#0808f0" stroke="#0808f0" stroke-width="0.6" textLength="3.43" lengthAdjust="spacingAndGlyphs">1</text>
<text x="755.75" y="190.7" font-size="18" font-weight="normal" fill="#0808f0" stroke="#0808f0" stroke-width="0.9" textLength="10.50" lengthAdjust="spacingAndGlyphs">O</text>
<text x="767.40" y="192.5" font-size="10" font-weight="normal" fill="#0808f0" stroke="#0808f0" stroke-width="0.6" textLength="3.99" lengthAdjust="spacingAndGlyphs">2</text>
<text x="705.43" y="223.6" font-size="18" font-weight="normal" fill="#0808f0" stroke="#0808f0" stroke-width="0.9" textLength="9.42" lengthAdjust="spacingAndGlyphs">R</text>
<text x="716.00" y="225.0" font-size="10" font-weight="normal" fill="#0808f0" stroke="#0808f0" stroke-width="0.6" textLength="3.71" lengthAdjust="spacingAndGlyphs">1</text>
<text x="756.67" y="223.6" font-size="18" font-weight="normal" fill="#0808f0" stroke="#0808f0" stroke-width="0.9" textLength="10.18" lengthAdjust="spacingAndGlyphs">R</text>
<text x="768.00" y="225.0" font-size="10" font-weight="normal" fill="#0808f0" stroke="#0808f0" stroke-width="0.6" textLength="3.15" lengthAdjust="spacingAndGlyphs">2</text>
<text x="854.35" y="158.6" font-size="17.3" font-weight="normal" fill="#0808f0" stroke="#0808f0" stroke-width="0.5" textLength="82.19" lengthAdjust="spacingAndGlyphs">Translation</text>
<text x="942.95" y="158.6" font-size="17.3" font-weight="normal" fill="#0808f0" stroke="#0808f0" stroke-width="0.5" textLength="18.38" lengthAdjust="spacingAndGlyphs">de</text>
<text x="967.15" y="158.6" font-size="17.3" font-weight="normal" fill="#0808f0" stroke="#0808f0" stroke-width="0.5" textLength="55.66" lengthAdjust="spacingAndGlyphs">vecteur</text>
<text x="1029.62" y="158.6" font-size="17.3" font-weight="normal" fill="#0808f0" stroke="#0808f0" stroke-width="0.5" textLength="10.32" lengthAdjust="spacingAndGlyphs">R</text>
<text x="1040.67" y="159.7" font-size="10.4" font-weight="normal" fill="#0808f0" stroke="#0808f0" stroke-width="0.35" textLength="3.42" lengthAdjust="spacingAndGlyphs">1</text>
<text x="1045.15" y="158.6" font-size="17.3" font-weight="normal" fill="#0808f0" stroke="#0808f0" stroke-width="0.5" textLength="10.37" lengthAdjust="spacingAndGlyphs">B</text>
<text x="1056.38" y="159.7" font-size="10.4" font-weight="normal" fill="#0808f0" stroke="#0808f0" stroke-width="0.35" textLength="3.61" lengthAdjust="spacingAndGlyphs">1</text>
<text x="850.25" y="190.6" font-size="17.3" font-weight="normal" fill="#0808f0" stroke="#0808f0" stroke-width="0.5" textLength="68.61" lengthAdjust="spacingAndGlyphs">Symétrie</text>
<text x="924.25" y="190.6" font-size="17.3" font-weight="normal" fill="#0808f0" stroke="#0808f0" stroke-width="0.5" textLength="44.10" lengthAdjust="spacingAndGlyphs">axiale</text>
<text x="974.25" y="190.6" font-size="17.3" font-weight="normal" fill="#0808f0" stroke="#0808f0" stroke-width="0.5" textLength="40.09" lengthAdjust="spacingAndGlyphs">d’axe</text>
<text x="1020.31" y="190.6" font-size="17.3" font-weight="normal" fill="#0808f0" stroke="#0808f0" stroke-width="0.5" textLength="5.41" lengthAdjust="spacingAndGlyphs">(</text>
<text x="1026.75" y="190.6" font-size="17.3" font-weight="normal" fill="#0808f0" stroke="#0808f0" stroke-width="0.5" textLength="10.09" lengthAdjust="spacingAndGlyphs">V</text>
<text x="1038.08" y="192.5" font-size="10.6" font-weight="normal" fill="#0808f0" stroke="#0808f0" stroke-width="0.35" textLength="4.66" lengthAdjust="spacingAndGlyphs">2</text>
<text x="1043.26" y="190.6" font-size="17.3" font-weight="normal" fill="#0808f0" stroke="#0808f0" stroke-width="0.5" textLength="10.26" lengthAdjust="spacingAndGlyphs">B</text>
<text x="1054.58" y="192.5" font-size="10.6" font-weight="normal" fill="#0808f0" stroke="#0808f0" stroke-width="0.35" textLength="3.49" lengthAdjust="spacingAndGlyphs">1</text>
<text x="1059.75" y="190.6" font-size="17.3" font-weight="normal" fill="#0808f0" stroke="#0808f0" stroke-width="0.5" textLength="5.52" lengthAdjust="spacingAndGlyphs">)</text>
<text x="786.15" y="221.6" font-size="12.8" font-weight="normal" fill="#0808f0" stroke="#0808f0" stroke-width="0.45" textLength="51.25" lengthAdjust="spacingAndGlyphs">Rotation</text>
<text x="843.23" y="221.6" font-size="12.8" font-weight="normal" fill="#0808f0" stroke="#0808f0" stroke-width="0.45" textLength="13.66" lengthAdjust="spacingAndGlyphs">de</text>
<text x="862.73" y="221.6" font-size="12.8" font-weight="normal" fill="#0808f0" stroke="#0808f0" stroke-width="0.45" textLength="37.67" lengthAdjust="spacingAndGlyphs">centre</text>
<text x="906.23" y="221.6" font-size="12.8" font-weight="normal" fill="#0808f0" stroke="#0808f0" stroke-width="0.45" textLength="9.51" lengthAdjust="spacingAndGlyphs">O</text>
<text x="916.85" y="223.0" font-size="8.0" font-weight="normal" fill="#0808f0" stroke="#0808f0" stroke-width="0.3" textLength="2.85" lengthAdjust="spacingAndGlyphs">1</text>
<text x="920.00" y="221.6" font-size="12.8" font-weight="normal" fill="#0808f0" stroke="#0808f0" stroke-width="0.45" textLength="3.64" lengthAdjust="spacingAndGlyphs">,</text>
<text x="929.23" y="221.6" font-size="12.8" font-weight="normal" fill="#0808f0" stroke="#0808f0" stroke-width="0.45" textLength="44.18" lengthAdjust="spacingAndGlyphs">d’angle</text>
<text x="978.73" y="221.6" font-size="12.8" font-weight="normal" fill="#0808f0" stroke="#0808f0" stroke-width="0.45" textLength="24.65" lengthAdjust="spacingAndGlyphs">60°,</text>
<text x="1009.23" y="221.6" font-size="12.8" font-weight="normal" fill="#0808f0" stroke="#0808f0" stroke-width="0.45" textLength="14.67" lengthAdjust="spacingAndGlyphs">de</text>
<text x="1028.72" y="221.6" font-size="12.8" font-weight="normal" fill="#0808f0" stroke="#0808f0" stroke-width="0.45" textLength="27.45" lengthAdjust="spacingAndGlyphs">sens</text>
<text x="1061.22" y="221.6" font-size="12.8" font-weight="normal" fill="#0808f0" stroke="#0808f0" stroke-width="0.45" textLength="67.18" lengthAdjust="spacingAndGlyphs">antihoraire</text>
<text x="349.21" y="871.6" font-size="26.4" font-weight="normal" fill="#111" stroke="#111" stroke-width="0.4" textLength="21.83" lengthAdjust="spacingAndGlyphs">et</text>
<text x="380.45" y="871.6" font-size="26.4" font-weight="normal" fill="#111" stroke="#111" stroke-width="0.41" textLength="107.52" lengthAdjust="spacingAndGlyphs">complète</text>
<text x="497.27" y="871.6" font-size="26.4" font-weight="normal" fill="#111" stroke="#111" stroke-width="0.57" textLength="31.03" lengthAdjust="spacingAndGlyphs">les</text>
<text x="537.89" y="871.6" font-size="26.4" font-weight="normal" fill="#111" stroke="#111" stroke-width="0.69" textLength="64.32" lengthAdjust="spacingAndGlyphs">DEUX</text>
<text x="612.12" y="871.6" font-size="26.4" font-weight="normal" fill="#111" stroke="#111" stroke-width="0.44" textLength="81.35" lengthAdjust="spacingAndGlyphs">feuilles</text>
<text x="701.94" y="871.6" font-size="26.4" font-weight="normal" fill="#111" stroke="#111" stroke-width="0.44" textLength="28.70" lengthAdjust="spacingAndGlyphs">de</text>
<text x="738.78" y="871.6" font-size="26.4" font-weight="normal" fill="#111" stroke="#111" stroke-width="0.39" textLength="111.28" lengthAdjust="spacingAndGlyphs">marques.</text>
<text x="267.15" y="447.5" font-size="10.3" font-weight="normal" fill="#111" stroke="#111" stroke-width="0.45" textLength="5.45" lengthAdjust="spacingAndGlyphs">V</text>
<text x="274.12" y="448.7" font-size="6.4" font-weight="normal" fill="#111" stroke="#111" stroke-width="0.4" textLength="1.78" lengthAdjust="spacingAndGlyphs">1</text>
<text x="266.85" y="513.2" font-size="10.3" font-weight="normal" fill="#111" stroke="#111" stroke-width="0.45" textLength="5.74" lengthAdjust="spacingAndGlyphs">V</text>
<text x="273.32" y="514.2" font-size="6.4" font-weight="normal" fill="#111" stroke="#111" stroke-width="0.4" textLength="2.49" lengthAdjust="spacingAndGlyphs">2</text>
<text x="322.20" y="482.05" font-size="9.6" font-weight="normal" fill="#111" stroke="#111" stroke-width="0.5" textLength="6.82" lengthAdjust="spacingAndGlyphs">O</text>
<text x="330.05" y="482.25" font-size="6.4" font-weight="normal" fill="#111" stroke="#111" stroke-width="0.4" textLength="1.69" lengthAdjust="spacingAndGlyphs">1</text>
<text x="322.20" y="549.05" font-size="9.6" font-weight="normal" fill="#111" stroke="#111" stroke-width="0.5" textLength="6.82" lengthAdjust="spacingAndGlyphs">O</text>
<text x="329.35" y="549.85" font-size="6.4" font-weight="normal" fill="#111" stroke="#111" stroke-width="0.4" textLength="2.58" lengthAdjust="spacingAndGlyphs">2</text>
<text x="381.60" y="448.0" font-size="10.3" font-weight="normal" fill="#111" stroke="#111" stroke-width="0.45" textLength="5.90" lengthAdjust="spacingAndGlyphs">R</text>
<text x="388.38" y="448.5" font-size="6.4" font-weight="normal" fill="#111" stroke="#111" stroke-width="0.4" textLength="1.42" lengthAdjust="spacingAndGlyphs">1</text>
<text x="324.38" y="416.15" font-size="10.3" font-weight="normal" fill="#111" stroke="#111" stroke-width="0.45" textLength="4.51" lengthAdjust="spacingAndGlyphs">R</text>
<text x="330.05" y="416.85" font-size="6.4" font-weight="normal" fill="#111" stroke="#111" stroke-width="0.4" textLength="2.84" lengthAdjust="spacingAndGlyphs">2</text>
<text x="381.50" y="515.3" font-size="10.3" font-weight="normal" fill="#111" stroke="#111" stroke-width="0.45" textLength="5.25" lengthAdjust="spacingAndGlyphs">B</text>
<text x="387.98" y="515.8" font-size="6.4" font-weight="normal" fill="#111" stroke="#111" stroke-width="0.4" textLength="1.95" lengthAdjust="spacingAndGlyphs">1</text>
</svg></body></html>
